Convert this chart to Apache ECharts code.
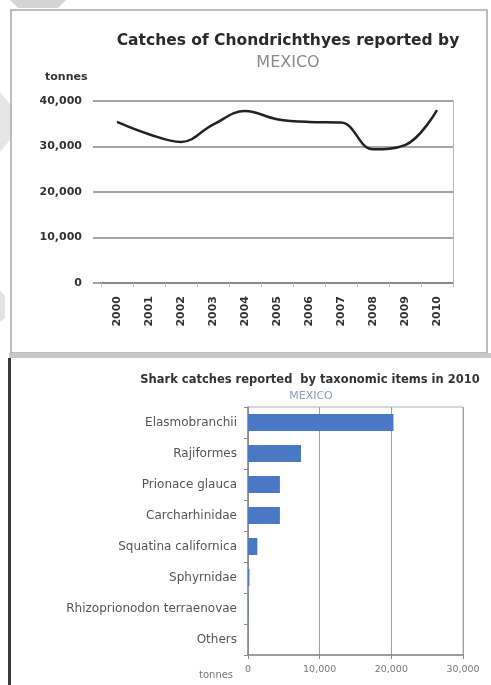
<!DOCTYPE html>
<html>
<head>
<meta charset="utf-8">
<script src="https://cdn.jsdelivr.net/npm/echarts@6/dist/echarts.min.js"></script>
<style>
html,body{margin:0;padding:0;background:#fff;}
#c{width:491px;height:685px;}
</style>
</head>
<body>
<div id="c"></div>
<script>
// Top chart: catches of Chondrichthyes by year (tonnes)
var years = ['2000','2001','2002','2003','2004','2005','2006','2007','2008','2009','2010'];
var catches = [35400, 32700, 31000, 34800, 37800, 36000, 35400, 35300, 29400, 30300, 38000];
var yTicks = [0, 10000, 20000, 30000, 40000];

// Bottom chart: shark catches by taxonomic item in 2010 (tonnes)
var taxa = ['Elasmobranchii', 'Rajiformes', 'Prionace glauca', 'Carcharhinidae',
            'Squatina californica', 'Sphyrnidae', 'Rhizoprionodon terraenovae', 'Others'];
var taxaCatches = [20300, 7400, 4450, 4450, 1300, 200, 60, 0];
var xTicks = [0, 10000, 20000, 30000];

function fmt(v){ return v.toLocaleString('en-US'); }

var chart = echarts.init(document.getElementById('c'), null, {renderer:'canvas'});
var sans = '"DejaVu Sans", sans-serif';

chart.setOption({
  backgroundColor: '#fff',
  animation: false,
  graphic: [
    {type:'polygon', shape:{points:[[10,0],[66,0],[58,8],[18,8]]}, style:{fill:'#d4d4d4'}, z:-1},
    {type:'polygon', shape:{points:[[0,92],[10,104],[10,140],[0,152]]}, style:{fill:'#e6e6e6'}, z:-1},
    {type:'polygon', shape:{points:[[0,290],[5,296],[5,318],[0,322]]}, style:{fill:'#e2e2e2'}, z:-1},
    {type:'rect', shape:{x:11, y:10, width:476, height:343}, style:{fill:'none', stroke:'#a8a8a8', lineWidth:1.5}, z:-1},
    {type:'rect', shape:{x:9, y:353, width:482, height:5}, style:{fill:'#c8c8c8'}, z:-1},
    {type:'rect', shape:{x:8, y:358, width:3, height:327}, style:{fill:'#3a3a3a'}, z:-1}
  ],
  title: [
    {text:'Catches of Chondrichthyes reported by', left:283, top:28, textAlign:'center',
     textStyle:{fontFamily:sans, fontSize:15.5, fontWeight:'bold', color:'#2a2a2a'}},
    {text:'MEXICO', left:283, top:50, textAlign:'center',
     textStyle:{fontFamily:sans, fontSize:16, fontWeight:'normal', color:'#8a8a8a'}},
    {text:'tonnes', left:40, top:67,
     textStyle:{fontFamily:sans, fontSize:11, fontWeight:'bold', color:'#333'}},
    {text:'Shark catches reported  by taxonomic items in 2010', left:305, top:369, textAlign:'center',
     textStyle:{fontFamily:sans, fontSize:11.5, fontWeight:'bold', color:'#333'}},
    {text:'MEXICO', left:306, top:386, textAlign:'center',
     textStyle:{fontFamily:sans, fontSize:11, fontWeight:'normal', color:'#8d9db8'}},
    {text:'tonnes', left:194, top:665,
     textStyle:{fontFamily:sans, fontSize:10, fontWeight:'normal', color:'#777'}}
  ],
  grid: [
    {left:101, top:101, width:352, height:182},
    {left:248, top:407, width:215, height:248, show:true, borderColor:'#b0b0b0', borderWidth:1}
  ],
  xAxis: [
    {gridIndex:0, type:'category', data:years, boundaryGap:true,
     axisLine:{show:true, lineStyle:{color:'#808080', width:1.5}},
     axisTick:{show:true, length:4, lineStyle:{color:'#c0c0c0'}},
     axisLabel:{rotate:90, margin:13, fontFamily:sans, fontSize:11, fontWeight:'bold', color:'#333'}},
    {gridIndex:1, type:'value', min:0, max:30000, interval:10000,
     axisLine:{show:true, lineStyle:{color:'#8a8a8a', width:1.5}},
     axisTick:{show:true, length:4, lineStyle:{color:'#8a8a8a'}},
     splitLine:{show:true, lineStyle:{color:'#a0a0a0', width:1}},
     axisLabel:{margin:10, fontFamily:sans, fontSize:9.5, color:'#777',
       formatter:function(v){ return fmt(v); }}}
  ],
  yAxis: [
    {gridIndex:0, type:'value', min:yTicks[0], max:yTicks[yTicks.length-1], interval:10000,
     axisLine:{show:false},
     axisTick:{show:true, length:8, lineStyle:{color:'#888', width:1.5}},
     splitLine:{show:true, lineStyle:{color:'#888', width:1.5}},
     axisLabel:{margin:19, fontFamily:sans, fontSize:11, fontWeight:'bold', color:'#333',
       formatter:function(v){ return fmt(v); }}},
    {gridIndex:0, type:'value', position:'right', min:0, max:40000, interval:10000,
     axisLine:{show:true, lineStyle:{color:'#b8b8b8', width:1}},
     axisTick:{show:false}, axisLabel:{show:false}, splitLine:{show:false}},
    {gridIndex:1, type:'category', data:taxa, inverse:true,
     axisLine:{show:true, lineStyle:{color:'#8a8a8a', width:1.5}},
     axisTick:{show:true, length:4, lineStyle:{color:'#8a8a8a'}},
     axisLabel:{margin:11, fontFamily:sans, fontSize:12, color:'#555'}}
  ],
  series: [
    {type:'line', xAxisIndex:0, yAxisIndex:0, data:catches, smooth:0.4, showSymbol:false,
     lineStyle:{color:'#222', width:2.5}},
    {type:'bar', xAxisIndex:1, yAxisIndex:2, data:taxaCatches, barWidth:17,
     itemStyle:{color:'#4a78c4'}}
  ]
});
</script>
</body>
</html>
